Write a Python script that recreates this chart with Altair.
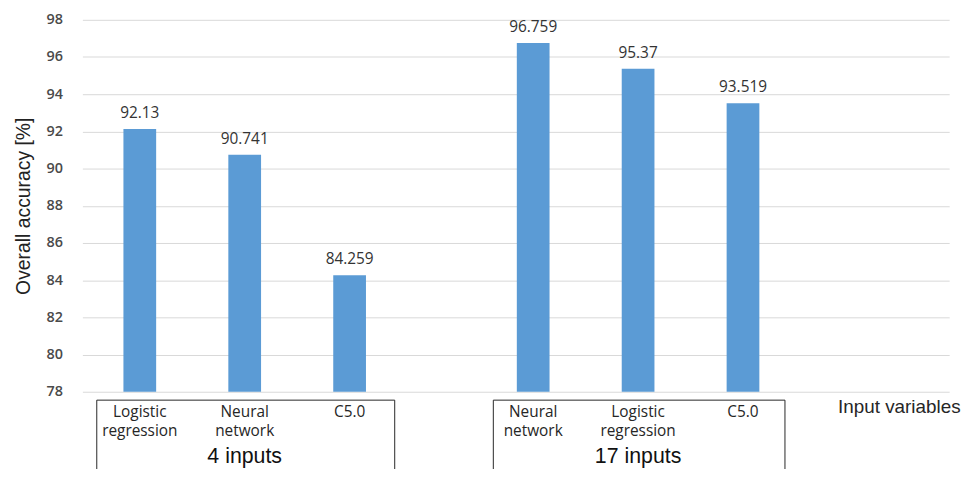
import altair as alt
import pandas as pd

# ---- data ----
groups = ["4 inputs", "4 inputs", "4 inputs", "17 inputs", "17 inputs", "17 inputs"]
models = ["Logistic\nregression", "Neural\nnetwork", "C5.0",
          "Neural\nnetwork", "Logistic\nregression", "C5.0"]
accuracy = [92.13, 90.741, 84.259, 96.759, 95.37, 93.519]
value_labels = ["92.13", "90.741", "84.259", "96.759", "95.37", "93.519"]
slot = [0.5, 1.5, 2.5, 4.25, 5.25, 6.25]

group_names = ["4 inputs", "17 inputs"]
group_start = [0.09, 3.87]
group_end = [2.93, 6.65]
group_mid = [1.5, 5.25]

y_ticks = [78, 80, 82, 84, 86, 88, 90, 92, 94, 96, 98]

bars_df = pd.DataFrame({"group": groups, "model": models, "acc": accuracy,
                        "label": value_labels, "slot": slot})
grp_df = pd.DataFrame({"name": group_names, "start": group_start,
                       "end": group_end, "mid": group_mid})

XMAX = 8.168
xscale = alt.Scale(domain=[0, XMAX], nice=False, zero=False)
yscale = alt.Scale(domain=[78, 98], nice=False, zero=False)

BLUE = "#5B9BD5"
TXT = "#333333"

yaxis = alt.Axis(values=y_ticks, title="Overall accuracy [%]",
                 grid=True, gridColor="#D9D9D9", domain=False,
                 ticks=False, labelPadding=20, labelOverlap=False,
                 labelFont="Open Sans", labelFontSize=14.5,
                 labelFontWeight=600, labelColor="#4a4a4a",
                 titleFont="Liberation Sans", titleFontSize=19.5,
                 titleFontWeight="normal", titleColor="#222222",
                 titlePadding=13)

base = alt.Chart(bars_df)

bars = base.mark_bar(color=BLUE, width=33).encode(
    x=alt.X("slot:Q", scale=xscale, axis=None),
    y=alt.Y("acc:Q", scale=yscale, axis=yaxis),
    y2=alt.Y2(datum=78),
)

vals = base.mark_text(baseline="bottom", dy=-8, font="Open Sans",
                      fontSize=15.5, color=TXT).encode(
    x=alt.X("slot:Q", scale=xscale, axis=None),
    y=alt.Y("acc:Q", scale=yscale, axis=yaxis),
    text="label:N",
)

cats = base.mark_text(baseline="top", lineBreak="\n", lineHeight=20,
                      font="Open Sans", fontSize=15.5, color="#262626").encode(
    x=alt.X("slot:Q", scale=xscale, axis=None),
    y=alt.value(388),
    text="model:N",
)

gbase = alt.Chart(grp_df)
box_top = gbase.mark_rule(color="#262626", strokeWidth=1).encode(
    x=alt.X("start:Q", scale=xscale, axis=None), x2="end:Q", y=alt.value(383.5))
box_left = gbase.mark_rule(color="#262626", strokeWidth=1).encode(
    x=alt.X("start:Q", scale=xscale, axis=None), y=alt.value(383.5), y2=alt.value(470))
box_right = gbase.mark_rule(color="#262626", strokeWidth=1).encode(
    x=alt.X("end:Q", scale=xscale, axis=None), y=alt.value(383.5), y2=alt.value(470))
gtext = gbase.mark_text(baseline="alphabetic", font="Liberation Sans",
                        fontSize=21.5, color="#111111").encode(
    x=alt.X("mid:Q", scale=xscale, axis=None), y=alt.value(447), text="name:N")

input_vars = alt.Chart(pd.DataFrame({"t": ["Input variables"]})).mark_text(
    align="left", baseline="middle", font="Liberation Sans", fontSize=19,
    color="#262626").encode(x=alt.value(762), y=alt.value(390), text="t:N")

chart = alt.layer(bars, vals, cats, box_top, box_left, box_right, gtext,
                  input_vars).properties(
    width=874, height=375,
    autosize=alt.AutoSizeParams(type="none"),
    padding={"left": 75, "top": 10, "right": 20, "bottom": 76},
).configure_view(stroke=None)

chart.save("out.html", embed_options={"renderer": "svg", "actions": False})
